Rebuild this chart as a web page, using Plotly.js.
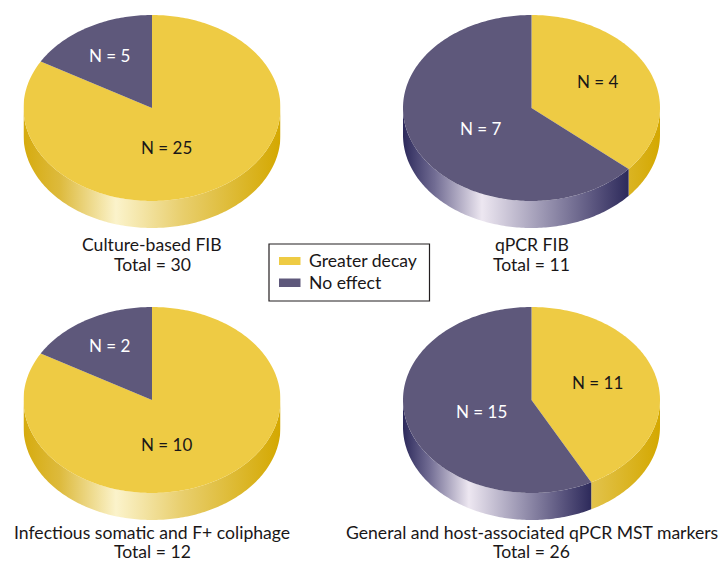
<!DOCTYPE html>
<html>
<head>
<meta charset="utf-8">
<script src="https://cdn.plot.ly/plotly-3.0.1.min.js"></script>
<style>html,body{margin:0;padding:0;background:#fff}#chart{width:719px;height:563px}</style>
</head>
<body>
<div id="chart"></div>
<script>
// Counts per marker group
const groupNames = ['Culture-based FIB', 'qPCR FIB', 'Infectious somatic and F+ coliphage', 'General and host-associated qPCR MST markers'];
const greaterDecay = [25, 4, 10, 11];
const noEffect = [5, 7, 2, 15];
const seriesNames = ['Greater decay', 'No effect'];

// Page layout, in pixels
const W = 719, H = 563;
const centres = [[152, 108], [531.5, 108], [152, 400], [531.5, 400]];
const RX = 128.5, RY = 93, DEPTH = 27;
const greaterLabelAt = [[166, 147], [598, 81], [166, 444], [597, 382]];
const noEffectLabelAt = [[110, 55], [481, 128], [110, 345], [481, 411]];
const titleRows = [[244, 264], [244, 264], [532.5, 551.5], [532.5, 551.5]];

const YELLOW = '#EECB44', PURPLE = '#5E587B';
const yellowSide = [[0, '#D6AB0E'], [0.14, '#DDBA3C'], [0.36, '#FBF3CB'], [0.62, '#E8CE6C'], [1, '#D4A800']];
const purpleSide = [[0, '#2C295B'], [0.14, '#716C93'], [0.35, '#EDE7F1'], [0.62, '#9C97B3'], [0.86, '#56517B'], [1, '#2D2A5B']];

const px = (x) => x / W;
const py = (y) => 1 - y / H;
const d = DEPTH / RY;

// Points of an arc; angles run clockwise from twelve o'clock, in degrees
function arc(from, to, yShift) {
  const xs = [], ys = [];
  const n = Math.max(2, Math.ceil(Math.abs(to - from)));
  for (let i = 0; i <= n; i++) {
    const t = (from + (to - from) * i / n) * Math.PI / 180;
    xs.push(Math.sin(t));
    ys.push(Math.cos(t) + yShift);
  }
  return [xs, ys];
}

function topFace(from, to, color, axis) {
  const [xs, ys] = arc(from, to, 0);
  return {
    type: 'scatter', mode: 'none', fill: 'toself', fillcolor: color,
    x: [0, ...xs, 0], y: [0, ...ys, 0],
    xaxis: axis.x, yaxis: axis.y, hoverinfo: 'skip', showlegend: false
  };
}

// Rim of one wedge: only the part that faces the viewer (90 to 270 degrees)
function rim(from, to, stops, gradFrom, gradTo, axis) {
  const a = Math.max(from, 90), b = Math.min(to, 270);
  if (b <= a) return null;
  const [tx, ty] = arc(a, b, 0);
  const [bx, by] = arc(b, a, -d);
  return {
    type: 'scatter', mode: 'none', fill: 'toself',
    fillgradient: { type: 'horizontal', colorscale: stops, start: gradFrom, stop: gradTo },
    x: [...tx, ...bx, tx[0]], y: [...ty, ...by, ty[0]],
    xaxis: axis.x, yaxis: axis.y, hoverinfo: 'skip', showlegend: false
  };
}

const traces = [];
const annotations = [];
const layout = {
  width: W, height: H, autosize: false,
  margin: { l: 0, r: 0, t: 0, b: 0 },
  paper_bgcolor: '#fff', plot_bgcolor: 'rgba(0,0,0,0)',
  showlegend: false, hovermode: false,
  font: { family: 'Lato, sans-serif', size: 17.6, color: '#1A1718' }
};

const note = (text, x, y, color, size) => annotations.push({
  text, xref: 'paper', yref: 'paper', x: px(x), y: py(y),
  xanchor: 'center', yanchor: 'middle', showarrow: false, borderpad: 0,
  font: { color: color || '#1A1718', size: size || 17.6 }
});

groupNames.forEach((name, i) => {
  const suffix = i === 0 ? '' : String(i + 1);
  const axis = { x: 'x' + suffix, y: 'y' + suffix };
  const [cx, cy] = centres[i];
  layout['xaxis' + suffix] = {
    domain: [px(cx - RX), px(cx + RX)], range: [-1, 1],
    visible: false, fixedrange: true
  };
  layout['yaxis' + suffix] = {
    domain: [py(cy + RY + DEPTH), py(cy - RY)], range: [-1 - d, 1],
    visible: false, fixedrange: true
  };

  const total = greaterDecay[i] + noEffect[i];
  const split = 360 * greaterDecay[i] / total;
  const splitX = Math.sin(split * Math.PI / 180);

  [rim(0, split, yellowSide, -1, 1, axis),
   rim(split, 360, purpleSide, -1, split > 270 ? 1 : splitX, axis)]
    .filter(Boolean).forEach(t => traces.push(t));
  traces.push(topFace(0, split, YELLOW, axis));
  traces.push(topFace(split, 360, PURPLE, axis));

  note('N = ' + greaterDecay[i], greaterLabelAt[i][0], greaterLabelAt[i][1], null, 17);
  note('N = ' + noEffect[i], noEffectLabelAt[i][0], noEffectLabelAt[i][1], '#FFFFFF', 17);
  note(name, cx, titleRows[i][0]);
  note('Total = ' + total, cx, titleRows[i][1]);
});

// Key in the middle of the page
const rect = (x0, y0, x1, y1, extra) => Object.assign({
  type: 'rect', xref: 'paper', yref: 'paper',
  x0: px(x0), x1: px(x1), y0: py(y0), y1: py(y1), line: { width: 0 }
}, extra);
layout.shapes = [
  rect(269, 244, 429.5, 301, { line: { color: '#231F20', width: 1.2 }, fillcolor: '#fff' }),
  rect(279, 257, 300.5, 265, { fillcolor: YELLOW }),
  rect(279, 278.5, 300.5, 287, { fillcolor: PURPLE })
];
seriesNames.forEach((label, k) => annotations.push({
  text: label, xref: 'paper', yref: 'paper', x: px(307), y: py(260 + k * 22),
  xanchor: 'left', yanchor: 'middle', showarrow: false, font: { size: 17.6 }
}));
layout.annotations = annotations;

Plotly.newPlot('chart', traces, layout, { displayModeBar: false, staticPlot: true });
</script>
</body>
</html>
